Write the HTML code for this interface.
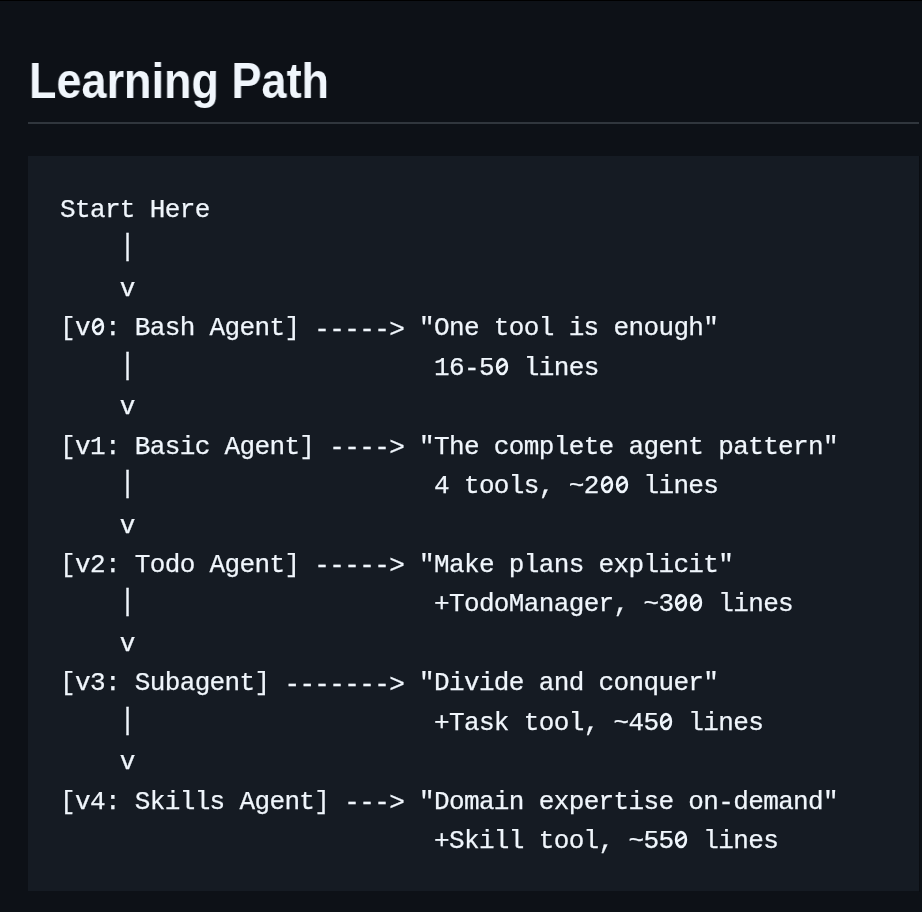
<!DOCTYPE html>
<html><head><meta charset="utf-8">
<style>
html,body{margin:0;padding:0;}
body{width:922px;height:912px;background:#0d1117;overflow:hidden;position:relative;}
h2{position:absolute;left:29px;top:51px;margin:0;font-family:"Liberation Sans",sans-serif;font-weight:bold;font-size:50px;transform:scaleX(0.9);will-change:transform;transform-origin:0 0;line-height:60px;color:#f0f6fc;white-space:nowrap;}
.hr{position:absolute;left:28px;top:122px;width:891px;height:2px;background:#30363d;}
pre{position:absolute;left:28px;top:156px;width:891px;height:735px;margin:0;box-sizing:border-box;padding:35px 32px 0 32px;background:#151b23;font-family:"Liberation Mono",monospace;font-size:26px;letter-spacing:-0.642px;line-height:39.44px;color:#f0f6fc;white-space:pre;overflow:hidden;will-change:transform;-webkit-text-stroke:0.25px #f0f6fc;}
.p{display:inline-block;transform:scaleY(1.1);transform-origin:50% 80%;}
.z{display:inline-block;vertical-align:top;}
.d{position:relative;top:1.5px;}
.edge{position:absolute;left:919px;top:156px;width:1px;height:736px;background:#0a0d12;}
</style></head><body>
<div style="position:absolute;left:0;top:0;width:922px;height:1px;background:#000"></div>
<h2>Learning Path</h2>
<div class="hr"></div>
<pre>Start Here
    <span class="p">|</span>
    v
[v<svg class="z" width="14.96" height="39.44"><ellipse cx="8" cy="17.5" rx="4.85" ry="7.45" fill="none" stroke="#f0f6fc" stroke-width="2.7"/><line x1="3.9" y1="19.6" x2="12.3" y2="14.3" stroke="#f0f6fc" stroke-width="2.4"/></svg>: Bash Agent] <span class="d">-----&gt;</span> "One tool is enough"
    <span class="p">|</span>                    16<span class="d">-</span>5<svg class="z" width="14.96" height="39.44"><ellipse cx="8" cy="17.5" rx="4.85" ry="7.45" fill="none" stroke="#f0f6fc" stroke-width="2.7"/><line x1="3.9" y1="19.6" x2="12.3" y2="14.3" stroke="#f0f6fc" stroke-width="2.4"/></svg> lines
    v
[v1: Basic Agent] <span class="d">----&gt;</span> "The complete agent pattern"
    <span class="p">|</span>                    4 tools, ~2<svg class="z" width="14.96" height="39.44"><ellipse cx="8" cy="17.5" rx="4.85" ry="7.45" fill="none" stroke="#f0f6fc" stroke-width="2.7"/><line x1="3.9" y1="19.6" x2="12.3" y2="14.3" stroke="#f0f6fc" stroke-width="2.4"/></svg><svg class="z" width="14.96" height="39.44"><ellipse cx="8" cy="17.5" rx="4.85" ry="7.45" fill="none" stroke="#f0f6fc" stroke-width="2.7"/><line x1="3.9" y1="19.6" x2="12.3" y2="14.3" stroke="#f0f6fc" stroke-width="2.4"/></svg> lines
    v
[v2: Todo Agent] <span class="d">-----&gt;</span> "Make plans explicit"
    <span class="p">|</span>                    +TodoManager, ~3<svg class="z" width="14.96" height="39.44"><ellipse cx="8" cy="17.5" rx="4.85" ry="7.45" fill="none" stroke="#f0f6fc" stroke-width="2.7"/><line x1="3.9" y1="19.6" x2="12.3" y2="14.3" stroke="#f0f6fc" stroke-width="2.4"/></svg><svg class="z" width="14.96" height="39.44"><ellipse cx="8" cy="17.5" rx="4.85" ry="7.45" fill="none" stroke="#f0f6fc" stroke-width="2.7"/><line x1="3.9" y1="19.6" x2="12.3" y2="14.3" stroke="#f0f6fc" stroke-width="2.4"/></svg> lines
    v
[v3: Subagent] <span class="d">-------&gt;</span> "Divide and conquer"
    <span class="p">|</span>                    +Task tool, ~45<svg class="z" width="14.96" height="39.44"><ellipse cx="8" cy="17.5" rx="4.85" ry="7.45" fill="none" stroke="#f0f6fc" stroke-width="2.7"/><line x1="3.9" y1="19.6" x2="12.3" y2="14.3" stroke="#f0f6fc" stroke-width="2.4"/></svg> lines
    v
[v4: Skills Agent] <span class="d">---&gt;</span> "Domain expertise on<span class="d">-</span>demand"
                         +Skill tool, ~55<svg class="z" width="14.96" height="39.44"><ellipse cx="8" cy="17.5" rx="4.85" ry="7.45" fill="none" stroke="#f0f6fc" stroke-width="2.7"/><line x1="3.9" y1="19.6" x2="12.3" y2="14.3" stroke="#f0f6fc" stroke-width="2.4"/></svg> lines</pre>
<div class="edge"></div>
</body></html>
